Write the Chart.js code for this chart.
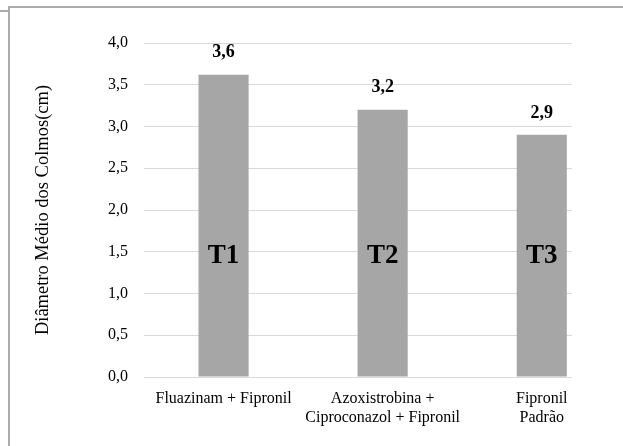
<!DOCTYPE html>
<html>
<head>
<meta charset="utf-8">
<script src="https://cdn.jsdelivr.net/npm/chart.js@4.4.1/dist/chart.umd.min.js"></script>
<style>
    html, body { margin: 0; padding: 0; background: #fff; }
    #wrap { width: 623px; height: 446px; position: relative; }
</style>
</head>
<body>
<div id="wrap"><canvas id="diamChart"></canvas></div>
<script>
// Chart data
const categories = [
    ['Fluazinam + Fipronil'],
    ['Azoxistrobina +', 'Ciproconazol + Fipronil'],
    ['Fipronil', 'Padrão']
];
const diameters = [3.62, 3.2, 2.9];
const treatmentTags = ['T1', 'T2', 'T3'];
const yTicks = [0, 0.5, 1, 1.5, 2, 2.5, 3, 3.5, 4];

const TAG_LEVEL = 1.45;   // height (axis value) where T1..T3 sit
const SERIF = '"Liberation Serif", "Times New Roman", serif';

// Format number with comma decimal
function fmt(v) {
    return v.toFixed(1).replace('.', ',');
}

// Frame, value labels and treatment tags
const decorPlugin = {
    id: 'decor',
    beforeDraw(chart) {
        const ctx = chart.ctx;
        ctx.save();
        ctx.fillStyle = '#fff';
        ctx.fillRect(0, 0, chart.width, chart.height);
        ctx.strokeStyle = '#ababab';
        ctx.lineWidth = 2;
        ctx.beginPath();
        ctx.moveTo(9, chart.height);
        ctx.lineTo(9, 7);
        ctx.lineTo(chart.width, 7);
        ctx.moveTo(0, 11);
        ctx.lineTo(8, 11);
        ctx.stroke();
        ctx.restore();
    },
    afterDatasetsDraw(chart) {
        const ctx = chart.ctx;
        const meta = chart.getDatasetMeta(0);
        const yScale = chart.scales.y;
        ctx.save();
        ctx.fillStyle = '#000';
        ctx.textAlign = 'center';
        ctx.textBaseline = 'middle';
        meta.data.forEach((bar, i) => {
            ctx.font = 'bold 18px ' + SERIF;
            ctx.fillText(fmt(diameters[i]), bar.x, bar.y - 22);
            ctx.font = 'bold 27px ' + SERIF;
            ctx.fillText(treatmentTags[i], bar.x, yScale.getPixelForValue(TAG_LEVEL));
        });
        ctx.restore();
    }
};

const chart = new Chart(document.getElementById('diamChart'), {
    type: 'bar',
    data: {
        datasets: [{
            data: diameters.map((v, i) => ({ x: i, y: v })),
            backgroundColor: '#a6a6a6',
            borderWidth: 0,
            barPercentage: 0.315,
            categoryPercentage: 1
        }]
    },
    options: {
        responsive: true,
        maintainAspectRatio: false,
        animation: false,
        layout: { padding: { top: 43, right: 51, bottom: 0, left: 0 } },
        plugins: {
            legend: { display: false },
            tooltip: { enabled: false }
        },
        scales: {
            x: {
                type: 'linear',
                min: -0.5,
                max: 2.19,
                offset: false,
                grid: { display: false, drawTicks: false, offset: false },
                border: { display: false },
                afterBuildTicks: (scale) => {
                    scale.ticks = categories.map((c, i) => ({ value: i }));
                },
                afterFit: (scale) => { scale.height = 69; },
                ticks: {
                    autoSkip: false,
                    maxRotation: 0,
                    padding: 13,
                    color: '#000',
                    font: { family: SERIF, size: 16, lineHeight: 1.15 },
                    callback: (v) => categories[v]
                }
            },
            y: {
                min: 0,
                max: 4,
                grid: { color: '#d9d9d9', lineWidth: 1, drawTicks: false },
                border: { display: false },
                afterBuildTicks: (scale) => {
                    scale.ticks = yTicks.map(v => ({ value: v }));
                },
                afterFit: (scale) => { scale.width = 144; },
                ticks: {
                    padding: 16,
                    color: '#000',
                    font: { family: SERIF, size: 16 },
                    callback: (v) => fmt(v)
                },
                title: {
                    display: true,
                    text: 'Diâmetro Médio dos Colmos(cm)',
                    color: '#000',
                    font: { family: SERIF, size: 18.5 },
                    padding: { top: 32, bottom: 0 }
                }
            }
        }
    },
    plugins: [decorPlugin]
});
</script>
</body>
</html>
